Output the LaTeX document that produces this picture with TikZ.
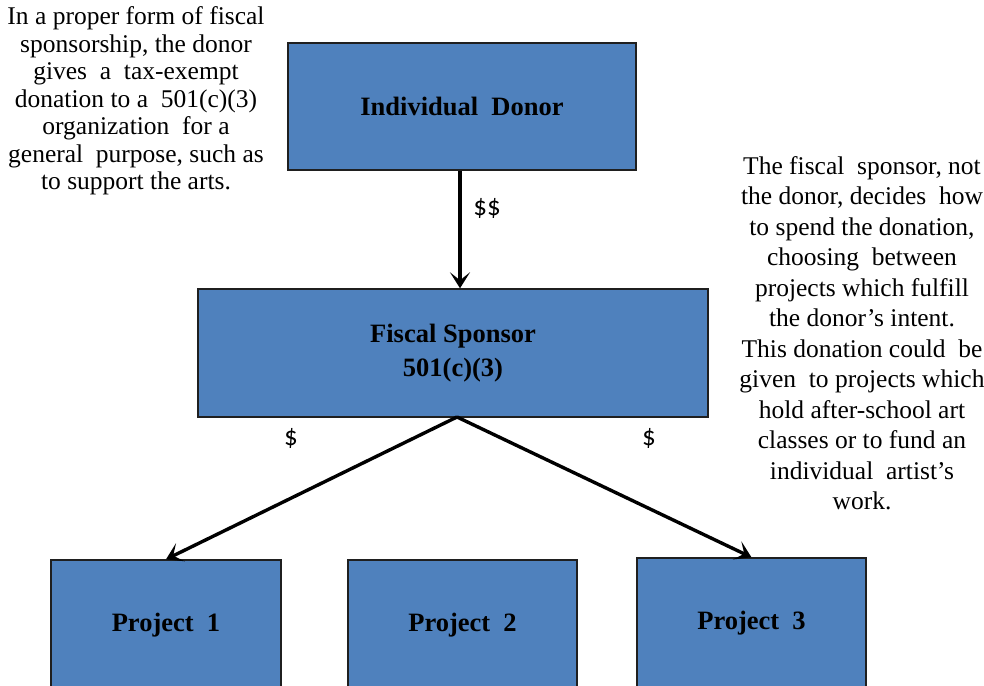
\documentclass[tikz,border=0pt]{standalone}
\usepackage{fontspec}
\setmainfont{Liberation Serif}
\newfontfamily\labelfont{Carlito}
\usetikzlibrary{arrows.meta}
\definecolor{boxblue}{HTML}{4F81BD}
\definecolor{boxedge}{HTML}{1F1F1F}
\tikzset{
  orgbox/.style={draw=boxedge, line width=1.4pt, fill=boxblue, inner sep=0pt,
    font=\fontsize{26.5}{34}\selectfont\bfseries, align=center},
  flow/.style={line width=3.4pt, -{Stealth[length=16pt,width=20pt,inset=8pt]}},
  money/.style={font=\labelfont\fontsize{27}{28}\selectfont},
  note/.style={align=center, inner sep=0pt}
}
\begin{document}
\begin{tikzpicture}[x=1pt,y=-1pt]
  \useasboundingbox (0,0) rectangle (984,685);
  \clip (0,0) rectangle (984,685);
  \fill[white] (0,0) rectangle (984,685);

  % boxes
  \node[orgbox, minimum width=348pt, minimum height=127pt] (donor) at (462,106.5) {Individual\ \ Donor};
  \node[orgbox, minimum width=510pt, minimum height=128pt] (sponsor) at (453,353) {Fiscal Sponsor\\501(c)(3)};
  \node[orgbox, minimum width=230pt, minimum height=130pt] (p1) at (166,625) {Project\ \ 1};
  \node[orgbox, minimum width=229pt, minimum height=130pt] (p2) at (462.5,625) {Project\ \ 2};
  \node[orgbox, minimum width=229pt, minimum height=130pt] (p3) at (751.5,623) {Project\ \ 3};

  % money flows
  \coordinate (split) at (457,417);
  \draw[flow] (donor.south -| 460,0) -- (sponsor.north -| 460,0);
  \draw[flow] (split) -- (p1.north);
  \draw[flow] (split) -- (p3.north);

  \node[money] (l0) at (487,208) {\$\$};
  \node[money] (l1) at (291,438) {\$};
  \node[money] (l2) at (649,438) {\$};

  % explanatory notes
  \node[note, font=\fontsize{25.5}{27.5}\selectfont] (leftnote) at (136,101)
    {In a proper form of fiscal\\
     sponsorship, the donor\\
     gives\ \ a\ \ tax-exempt\\
     donation to a\ \ 501(c)(3)\\
     organization\ \ for a\\
     general\ \ purpose, such as\\
     to support the arts.};
  \node[note, font=\fontsize{25.5}{30.5}\selectfont] (rightnote) at (862,333)
    {The fiscal\ \ sponsor, not\\
     the donor, decides\ \ how\\
     to spend the donation,\\
     choosing\ \ between\\
     projects which fulfill\\
     the donor's intent.\\
     This donation could\ \ be\\
     given\ \ to projects which\\
     hold after-school art\\
     classes or to fund an\\
     individual\ \ artist's\\
     work.};
\end{tikzpicture}
\end{document}
